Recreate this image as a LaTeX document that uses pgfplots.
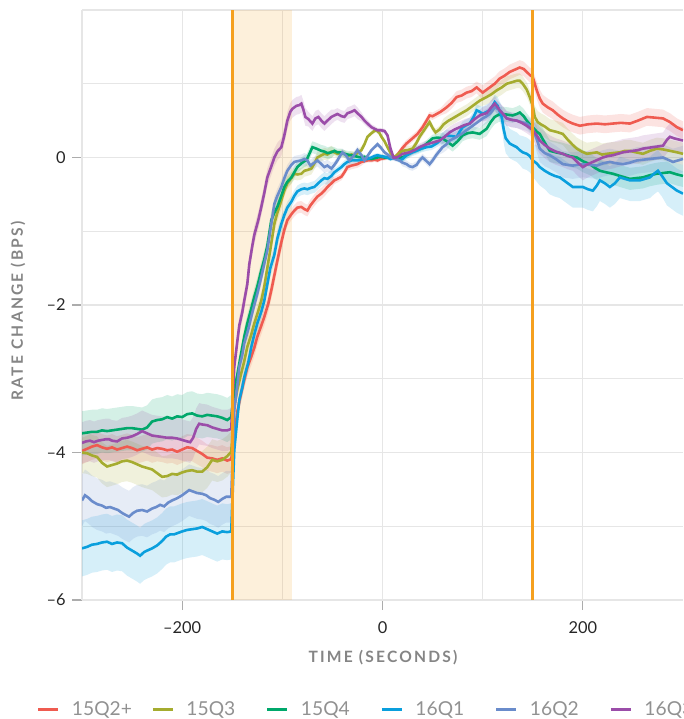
\documentclass[border=0pt]{standalone}
\usepackage{pgfplots}
\pgfplotsset{compat=1.18}
\usepackage{pgfplotstable}
\usepgfplotslibrary{fillbetween}
\usepackage{fontspec}
\setmainfont{Lato}
\newfontfamily\labfont[LetterSpace=14]{Lato Bold}
\definecolor{cRed}{HTML}{EF5B50}
\definecolor{cOli}{HTML}{A5AC2F}
\definecolor{cGrn}{HTML}{00A86B}
\definecolor{cBlu}{HTML}{0A9FDD}
\definecolor{cStl}{HTML}{6A8CCB}
\definecolor{cPur}{HTML}{9B4DA9}
\definecolor{cOrg}{HTML}{F5A01F}
\definecolor{cGrid}{HTML}{E6E6E6}
\definecolor{cLab}{HTML}{858585}

\pgfplotstableread{
x y e
-300 -3.98 0.18
-295 -3.95 0.18
-290 -3.92 0.18
-285 -3.90 0.18
-280 -3.93 0.18
-275 -3.95 0.18
-270 -3.93 0.18
-265 -3.96 0.18
-260 -3.94 0.18
-255 -3.92 0.18
-250 -3.94 0.18
-245 -3.97 0.18
-240 -3.95 0.18
-235 -3.93 0.18
-230 -3.96 0.18
-225 -3.94 0.18
-220 -3.95 0.18
-215 -3.97 0.18
-210 -3.96 0.18
-205 -3.99 0.18
-200 -3.96 0.18
-195 -3.93 0.18
-190 -3.94 0.18
-185 -3.98 0.18
-180 -4.02 0.18
-175 -4.07 0.18
-170 -4.08 0.18
-165 -4.10 0.18
-160 -4.08 0.18
-155 -4.11 0.18
-151 -4.09 0.18
-148 -3.79 0.12
-145 -3.45 0.12
-142 -3.25 0.12
-139 -3.07 0.12
-135 -2.85 0.12
-131 -2.70 0.12
-128 -2.58 0.12
-125 -2.43 0.12
-121 -2.28 0.12
-118 -2.16 0.12
-114 -1.98 0.12
-111 -1.80 0.12
-108 -1.60 0.12
-105 -1.40 0.12
-101 -1.15 0.12
-98 -0.98 0.08
-95 -0.85 0.08
-91 -0.77 0.08
-88 -0.72 0.08
-85 -0.68 0.08
-81 -0.67 0.08
-78 -0.70 0.08
-75 -0.72 0.08
-72 -0.65 0.08
-68 -0.58 0.08
-65 -0.53 0.08
-61 -0.49 0.08
-58 -0.45 0.08
-55 -0.40 0.08
-51 -0.35 0.08
-48 -0.31 0.05
-45 -0.29 0.05
-41 -0.26 0.05
-38 -0.20 0.05
-35 -0.13 0.05
-31 -0.11 0.05
-28 -0.10 0.05
-25 -0.09 0.05
-21 -0.06 0.05
-18 -0.05 0.03
-15 -0.04 0.03
-11 -0.04 0.03
-8 -0.03 0.03
-5 -0.04 0.03
-2 -0.02 0.03
2 -0.01 0.03
5 0.00 0.03
8 0.00 0.03
12 0.00 0.03
15 0.04 0.03
20 0.13 0.05
24 0.19 0.05
30 0.26 0.05
35 0.32 0.05
40 0.41 0.05
44 0.50 0.05
47 0.57 0.05
50 0.56 0.05
54 0.59 0.05
58 0.62 0.05
64 0.68 0.08
69 0.74 0.08
74 0.82 0.08
79 0.84 0.08
84 0.88 0.08
89 0.90 0.08
94 0.95 0.08
100 0.88 0.10
104 0.92 0.10
107 0.95 0.10
112 1.00 0.10
117 1.07 0.10
122 1.11 0.10
127 1.16 0.10
132 1.19 0.10
137 1.22 0.10
141 1.20 0.10
144 1.16 0.10
147 1.12 0.10
150 1.09 0.10
154 0.91 0.12
157 0.80 0.12
160 0.73 0.12
165 0.68 0.12
170 0.64 0.12
175 0.58 0.12
180 0.53 0.12
185 0.49 0.12
190 0.46 0.12
197 0.43 0.12
205 0.45 0.12
214 0.46 0.12
222 0.45 0.12
230 0.46 0.12
238 0.47 0.12
247 0.46 0.12
255 0.50 0.12
264 0.55 0.12
272 0.54 0.12
280 0.53 0.12
287 0.48 0.12
294 0.41 0.12
300 0.37 0.12
}\tRed

\pgfplotstableread{
x y e
-300 -4.00 0.28
-295 -4.01 0.28
-290 -4.04 0.28
-285 -4.06 0.28
-280 -4.14 0.28
-275 -4.19 0.28
-270 -4.17 0.28
-265 -4.15 0.28
-260 -4.12 0.28
-255 -4.11 0.28
-250 -4.13 0.28
-245 -4.16 0.28
-240 -4.19 0.28
-235 -4.21 0.28
-230 -4.23 0.28
-225 -4.28 0.28
-220 -4.33 0.28
-215 -4.32 0.28
-210 -4.29 0.28
-205 -4.30 0.28
-200 -4.27 0.28
-195 -4.25 0.28
-190 -4.24 0.28
-185 -4.26 0.28
-180 -4.26 0.28
-175 -4.20 0.28
-170 -4.10 0.28
-165 -4.12 0.28
-160 -4.10 0.28
-155 -4.05 0.28
-151 -3.99 0.28
-148 -3.38 0.12
-145 -3.15 0.12
-142 -2.98 0.12
-138 -2.76 0.12
-135 -2.57 0.12
-131 -2.40 0.12
-128 -2.25 0.12
-124 -2.08 0.12
-121 -1.94 0.12
-118 -1.75 0.12
-115 -1.50 0.12
-112 -1.25 0.12
-108 -0.90 0.12
-105 -0.75 0.12
-101 -0.58 0.12
-98 -0.45 0.08
-95 -0.35 0.08
-91 -0.28 0.08
-88 -0.22 0.08
-85 -0.23 0.08
-81 -0.22 0.08
-78 -0.18 0.08
-75 -0.17 0.08
-71 -0.15 0.08
-68 -0.08 0.08
-65 0.00 0.08
-61 0.03 0.08
-58 0.05 0.08
-55 0.04 0.08
-51 0.08 0.08
-48 0.07 0.05
-45 0.05 0.05
-41 0.06 0.05
-38 0.05 0.05
-35 0.02 0.05
-31 0.04 0.05
-28 0.03 0.05
-25 0.06 0.05
-21 0.10 0.05
-18 0.18 0.03
-15 0.28 0.03
-11 0.33 0.03
-8 0.36 0.03
-6 0.37 0.03
-3 0.33 0.03
-1 0.28 0.03
2 0.22 0.03
5 0.14 0.03
8 0.06 0.03
12 0.00 0.03
16 0.05 0.03
20 0.09 0.05
25 0.10 0.05
30 0.12 0.05
34 0.20 0.05
37 0.28 0.05
40 0.34 0.05
44 0.42 0.05
47 0.48 0.05
50 0.40 0.05
53 0.34 0.05
57 0.38 0.05
61 0.45 0.08
66 0.50 0.08
70 0.53 0.08
75 0.57 0.08
80 0.61 0.08
84 0.64 0.08
90 0.70 0.08
97 0.77 0.08
104 0.82 0.10
109 0.86 0.10
114 0.91 0.10
119 0.95 0.10
124 1.00 0.10
129 1.02 0.10
134 1.04 0.10
137 1.04 0.10
140 1.00 0.10
144 0.92 0.10
147 0.82 0.10
150 0.70 0.10
152 0.55 0.15
155 0.48 0.15
158 0.45 0.15
162 0.42 0.15
167 0.37 0.15
173 0.35 0.15
180 0.32 0.15
185 0.24 0.15
190 0.17 0.15
194 0.12 0.15
199 0.08 0.15
204 0.05 0.15
209 0.06 0.15
214 0.07 0.15
219 0.04 0.15
224 0.05 0.15
230 0.06 0.15
237 0.07 0.15
242 0.09 0.15
247 0.09 0.15
253 0.07 0.15
260 0.05 0.15
267 0.09 0.15
274 0.12 0.15
280 0.11 0.15
287 0.09 0.15
294 0.07 0.15
300 0.05 0.15
}\tOli

\pgfplotstableread{
x y e
-300 -3.74 0.30
-295 -3.73 0.30
-290 -3.72 0.30
-285 -3.72 0.30
-280 -3.70 0.30
-275 -3.71 0.30
-270 -3.70 0.30
-265 -3.69 0.30
-260 -3.68 0.30
-255 -3.67 0.30
-250 -3.67 0.30
-245 -3.68 0.30
-240 -3.69 0.30
-235 -3.66 0.30
-230 -3.58 0.30
-225 -3.56 0.30
-220 -3.55 0.30
-215 -3.52 0.30
-210 -3.54 0.30
-205 -3.51 0.30
-200 -3.52 0.30
-195 -3.48 0.30
-190 -3.47 0.30
-185 -3.50 0.30
-180 -3.51 0.30
-175 -3.49 0.30
-170 -3.50 0.30
-165 -3.51 0.30
-160 -3.53 0.30
-155 -3.56 0.30
-151 -3.52 0.30
-148 -3.16 0.12
-145 -2.95 0.12
-142 -2.72 0.12
-138 -2.43 0.12
-135 -2.25 0.12
-132 -2.10 0.12
-128 -1.89 0.12
-125 -1.75 0.12
-121 -1.53 0.12
-118 -1.38 0.12
-115 -1.20 0.12
-111 -0.85 0.12
-108 -0.75 0.12
-105 -0.67 0.12
-101 -0.52 0.12
-98 -0.40 0.08
-95 -0.33 0.08
-91 -0.27 0.08
-88 -0.20 0.08
-85 -0.13 0.08
-81 -0.08 0.08
-78 -0.05 0.08
-76 -0.04 0.08
-73 0.05 0.08
-70 0.14 0.08
-66 0.12 0.08
-61 0.09 0.08
-58 0.08 0.08
-55 0.06 0.08
-51 0.07 0.08
-48 0.09 0.05
-45 0.07 0.05
-41 0.07 0.05
-38 0.05 0.05
-35 0.04 0.05
-31 0.03 0.05
-28 0.02 0.05
-25 0.01 0.05
-21 0.00 0.05
-18 0.01 0.03
-15 -0.01 0.03
-11 -0.02 0.03
-8 -0.01 0.03
-5 0.00 0.03
-2 0.01 0.03
2 0.00 0.03
5 0.00 0.03
8 -0.01 0.03
12 0.00 0.03
16 0.00 0.03
20 0.00 0.05
25 0.04 0.05
30 0.09 0.05
35 0.11 0.05
40 0.14 0.05
45 0.20 0.05
50 0.26 0.05
55 0.27 0.05
60 0.26 0.08
65 0.21 0.08
70 0.16 0.08
75 0.22 0.08
80 0.30 0.08
85 0.33 0.08
90 0.34 0.08
97 0.32 0.08
104 0.39 0.10
108 0.48 0.10
112 0.55 0.10
116 0.58 0.10
120 0.59 0.10
125 0.58 0.10
130 0.57 0.10
134 0.59 0.10
137 0.61 0.10
141 0.56 0.10
144 0.50 0.10
147 0.45 0.10
150 0.41 0.10
154 0.35 0.15
157 0.32 0.15
162 0.20 0.15
167 0.09 0.15
173 0.07 0.15
180 0.05 0.15
187 0.02 0.15
194 0.00 0.15
200 -0.05 0.15
207 -0.09 0.15
212 -0.14 0.15
217 -0.18 0.15
223 -0.20 0.15
230 -0.22 0.15
237 -0.25 0.15
247 -0.29 0.15
253 -0.28 0.15
260 -0.27 0.15
267 -0.24 0.15
274 -0.22 0.15
280 -0.21 0.15
287 -0.20 0.15
294 -0.23 0.15
300 -0.25 0.15
}\tGrn

\pgfplotstableread{
x y e
-300 -5.30 0.38
-295 -5.28 0.38
-290 -5.25 0.38
-285 -5.24 0.38
-280 -5.22 0.38
-275 -5.21 0.38
-270 -5.24 0.38
-265 -5.22 0.38
-260 -5.23 0.38
-255 -5.29 0.38
-250 -5.33 0.38
-245 -5.37 0.38
-242 -5.40 0.38
-238 -5.35 0.38
-235 -5.33 0.38
-230 -5.30 0.38
-225 -5.26 0.38
-220 -5.20 0.38
-216 -5.14 0.38
-212 -5.11 0.38
-208 -5.11 0.38
-204 -5.09 0.38
-200 -5.07 0.38
-195 -5.05 0.38
-190 -5.04 0.38
-185 -5.03 0.38
-180 -5.01 0.38
-175 -5.04 0.38
-170 -5.07 0.38
-165 -5.10 0.38
-160 -5.07 0.38
-155 -5.08 0.38
-151 -5.07 0.38
-148 -3.97 0.12
-145 -3.55 0.12
-143 -3.29 0.12
-140 -3.12 0.12
-138 -2.98 0.12
-134 -2.78 0.12
-131 -2.57 0.12
-128 -2.40 0.12
-125 -2.25 0.12
-121 -2.09 0.12
-118 -1.94 0.12
-115 -1.72 0.12
-112 -1.50 0.12
-108 -1.32 0.12
-105 -1.10 0.12
-101 -0.90 0.12
-98 -0.78 0.08
-95 -0.68 0.08
-91 -0.60 0.08
-88 -0.52 0.08
-85 -0.46 0.08
-81 -0.43 0.08
-78 -0.42 0.08
-75 -0.43 0.08
-71 -0.41 0.08
-68 -0.40 0.08
-65 -0.36 0.08
-61 -0.31 0.08
-58 -0.28 0.08
-55 -0.29 0.08
-51 -0.25 0.08
-48 -0.20 0.05
-45 -0.17 0.05
-41 -0.13 0.05
-38 -0.09 0.05
-35 -0.06 0.05
-31 -0.04 0.05
-28 -0.04 0.05
-25 -0.04 0.05
-21 -0.03 0.05
-18 -0.02 0.03
-15 -0.02 0.03
-11 0.00 0.03
-8 0.02 0.03
-5 0.03 0.03
-2 0.02 0.03
2 0.01 0.03
5 0.00 0.03
8 -0.02 0.03
12 0.00 0.03
17 -0.04 0.03
20 -0.02 0.05
24 0.03 0.05
30 0.07 0.05
34 0.09 0.05
39 0.12 0.05
44 0.14 0.05
49 0.15 0.05
54 0.19 0.05
59 0.25 0.08
64 0.30 0.08
69 0.29 0.08
74 0.28 0.08
77 0.35 0.08
80 0.41 0.08
84 0.44 0.08
87 0.46 0.08
91 0.55 0.08
94 0.64 0.08
97 0.62 0.08
100 0.59 0.10
104 0.62 0.10
107 0.64 0.10
110 0.70 0.10
112 0.75 0.10
115 0.70 0.12
119 0.55 0.15
121 0.38 0.18
123 0.26 0.20
127 0.19 0.20
131 0.16 0.20
134 0.14 0.20
137 0.10 0.20
140 0.07 0.22
144 0.05 0.22
147 0.02 0.22
150 -0.04 0.22
154 -0.08 0.25
157 -0.13 0.25
162 -0.18 0.25
167 -0.22 0.28
172 -0.25 0.28
177 -0.27 0.28
183 -0.33 0.28
190 -0.40 0.28
195 -0.40 0.28
200 -0.40 0.28
205 -0.43 0.28
210 -0.45 0.28
214 -0.38 0.28
217 -0.31 0.28
222 -0.35 0.28
227 -0.40 0.28
232 -0.35 0.28
237 -0.27 0.28
242 -0.29 0.28
247 -0.31 0.28
252 -0.31 0.28
257 -0.31 0.28
262 -0.29 0.28
267 -0.27 0.28
271 -0.22 0.28
275 -0.18 0.28
279 -0.25 0.28
284 -0.35 0.30
289 -0.40 0.30
294 -0.45 0.30
300 -0.49 0.30
}\tBlu

\pgfplotstableread{
x y e
-300 -4.65 0.35
-297 -4.58 0.35
-293 -4.62 0.35
-290 -4.66 0.35
-285 -4.70 0.35
-280 -4.72 0.35
-276 -4.75 0.35
-272 -4.74 0.35
-268 -4.76 0.35
-264 -4.78 0.35
-260 -4.82 0.35
-256 -4.85 0.35
-253 -4.87 0.35
-249 -4.82 0.35
-245 -4.79 0.35
-240 -4.78 0.35
-235 -4.80 0.35
-230 -4.76 0.35
-226 -4.74 0.35
-222 -4.71 0.35
-218 -4.73 0.35
-214 -4.68 0.35
-210 -4.65 0.35
-205 -4.62 0.35
-200 -4.58 0.35
-197 -4.55 0.35
-193 -4.51 0.35
-189 -4.53 0.35
-185 -4.55 0.35
-180 -4.56 0.35
-176 -4.58 0.35
-172 -4.62 0.35
-168 -4.64 0.35
-164 -4.67 0.35
-160 -4.63 0.35
-156 -4.60 0.35
-151 -4.60 0.35
-148 -3.43 0.10
-145 -3.10 0.10
-143 -2.84 0.10
-140 -2.68 0.10
-138 -2.52 0.10
-134 -2.33 0.10
-131 -2.16 0.10
-128 -2.00 0.10
-125 -1.85 0.10
-121 -1.62 0.10
-118 -1.44 0.10
-115 -1.26 0.10
-111 -0.90 0.10
-108 -0.63 0.10
-105 -0.52 0.10
-101 -0.40 0.10
-98 -0.28 0.08
-95 -0.18 0.08
-91 -0.10 0.08
-88 -0.06 0.08
-85 -0.05 0.08
-81 -0.04 0.08
-78 -0.02 0.08
-75 -0.04 0.08
-72 -0.11 0.08
-68 -0.07 0.08
-65 -0.04 0.08
-61 -0.09 0.08
-58 -0.13 0.08
-55 -0.11 0.08
-51 -0.15 0.08
-48 -0.10 0.05
-45 -0.04 0.05
-42 0.03 0.05
-40 0.07 0.05
-36 0.02 0.05
-33 -0.04 0.05
-29 0.02 0.05
-25 0.10 0.05
-21 0.03 0.05
-18 -0.04 0.03
-15 0.02 0.03
-11 0.10 0.03
-8 0.14 0.03
-5 0.18 0.03
-2 0.14 0.03
2 0.07 0.03
5 0.04 0.03
9 0.00 0.03
12 -0.02 0.03
17 -0.04 0.03
20 -0.07 0.05
24 -0.09 0.05
27 -0.12 0.05
30 -0.13 0.05
34 -0.10 0.05
37 -0.04 0.05
40 0.00 0.05
44 -0.05 0.05
47 -0.09 0.05
50 -0.04 0.05
54 0.04 0.05
57 0.09 0.05
60 0.14 0.08
64 0.18 0.08
67 0.23 0.08
70 0.25 0.08
74 0.28 0.08
79 0.32 0.08
84 0.37 0.08
90 0.43 0.08
95 0.48 0.08
100 0.53 0.10
104 0.56 0.10
107 0.59 0.10
110 0.64 0.10
112 0.68 0.10
115 0.66 0.10
117 0.64 0.10
121 0.58 0.10
124 0.53 0.10
129 0.51 0.10
134 0.50 0.10
139 0.48 0.10
144 0.46 0.10
147 0.43 0.10
150 0.39 0.10
154 0.25 0.18
157 0.12 0.18
162 0.06 0.18
167 0.03 0.18
173 -0.02 0.18
180 -0.09 0.18
185 -0.10 0.18
190 -0.11 0.18
195 -0.10 0.18
200 -0.09 0.18
207 -0.10 0.18
214 -0.11 0.18
220 -0.08 0.18
227 -0.06 0.18
234 -0.08 0.18
240 -0.09 0.18
247 -0.07 0.18
254 -0.04 0.18
260 -0.03 0.18
267 -0.02 0.18
273 -0.01 0.18
280 0.00 0.18
285 -0.03 0.18
290 -0.06 0.18
295 -0.04 0.18
300 -0.02 0.18
}\tStl

\pgfplotstableread{
x y e
-300 -3.87 0.28
-296 -3.85 0.28
-292 -3.84 0.28
-288 -3.86 0.28
-284 -3.84 0.28
-280 -3.83 0.28
-276 -3.82 0.28
-273 -3.82 0.28
-270 -3.84 0.28
-265 -3.85 0.28
-260 -3.81 0.28
-255 -3.80 0.28
-250 -3.78 0.28
-245 -3.75 0.28
-240 -3.71 0.28
-235 -3.74 0.28
-230 -3.77 0.28
-225 -3.78 0.28
-220 -3.79 0.28
-215 -3.80 0.28
-210 -3.80 0.28
-205 -3.81 0.28
-200 -3.83 0.28
-195 -3.85 0.28
-192 -3.86 0.28
-189 -3.80 0.28
-186 -3.68 0.28
-183 -3.61 0.28
-180 -3.62 0.28
-175 -3.63 0.28
-170 -3.66 0.28
-165 -3.68 0.28
-160 -3.70 0.28
-155 -3.70 0.28
-151 -3.68 0.28
-148 -2.84 0.12
-145 -2.50 0.12
-143 -2.28 0.12
-140 -2.10 0.12
-138 -1.94 0.12
-135 -1.72 0.12
-133 -1.45 0.12
-130 -1.20 0.12
-128 -1.05 0.12
-124 -0.85 0.12
-121 -0.67 0.12
-118 -0.48 0.12
-115 -0.27 0.12
-111 -0.12 0.12
-108 0.00 0.12
-105 0.08 0.12
-101 0.14 0.12
-98 0.30 0.12
-95 0.50 0.12
-92 0.62 0.12
-90 0.66 0.12
-86 0.70 0.12
-83 0.71 0.12
-81 0.73 0.12
-79 0.65 0.12
-77 0.55 0.12
-74 0.52 0.10
-70 0.46 0.10
-67 0.53 0.10
-64 0.55 0.10
-61 0.50 0.10
-58 0.46 0.10
-55 0.50 0.10
-51 0.55 0.10
-48 0.57 0.08
-45 0.59 0.08
-41 0.56 0.08
-38 0.55 0.08
-35 0.60 0.08
-31 0.62 0.08
-28 0.64 0.08
-25 0.60 0.08
-21 0.55 0.06
-18 0.50 0.05
-15 0.46 0.05
-11 0.41 0.04
-8 0.39 0.04
-5 0.37 0.03
-2 0.37 0.03
2 0.36 0.03
5 0.30 0.03
8 0.12 0.03
11 0.00 0.03
14 0.00 0.03
17 0.02 0.03
20 0.05 0.05
24 0.06 0.05
27 0.07 0.05
32 0.10 0.05
37 0.14 0.05
42 0.17 0.05
47 0.19 0.05
52 0.21 0.05
57 0.23 0.05
62 0.28 0.08
67 0.34 0.08
72 0.38 0.08
77 0.41 0.08
82 0.44 0.08
87 0.46 0.08
92 0.52 0.08
97 0.57 0.08
101 0.59 0.10
104 0.60 0.10
108 0.67 0.10
112 0.73 0.10
115 0.68 0.10
117 0.64 0.10
121 0.58 0.10
124 0.53 0.10
129 0.51 0.10
134 0.50 0.10
139 0.47 0.10
144 0.43 0.10
150 0.37 0.10
154 0.30 0.18
157 0.23 0.18
162 0.17 0.18
167 0.12 0.18
173 0.08 0.18
180 0.05 0.18
185 0.02 0.18
190 0.00 0.18
195 -0.07 0.18
200 -0.13 0.18
205 -0.09 0.18
210 -0.06 0.18
215 -0.03 0.18
220 0.00 0.18
225 0.02 0.18
230 0.03 0.18
235 0.05 0.18
240 0.07 0.18
245 0.08 0.18
250 0.09 0.18
255 0.10 0.18
260 0.12 0.18
265 0.13 0.18
270 0.14 0.18
275 0.15 0.18
280 0.16 0.18
284 0.24 0.18
287 0.28 0.18
291 0.26 0.18
294 0.25 0.18
300 0.23 0.18
}\tPur

\newcommand{\band}[3]{%
  \addplot[name path=#1u, draw=none, forget plot] table[x=x, y expr=\thisrow{y}+\thisrow{e}] {#2};
  \addplot[name path=#1l, draw=none, forget plot] table[x=x, y expr=\thisrow{y}-\thisrow{e}] {#2};
  \addplot[fill=#3, fill opacity=0.17, draw=none, forget plot] fill between[of=#1u and #1l];
}

\begin{document}
\begin{tikzpicture}
\begin{axis}[
  scale only axis,
  width=300.5pt, height=295pt,
  xmin=-300, xmax=300, ymin=-6, ymax=2,
  axis x line*=bottom, axis y line*=left,
  axis line style={draw=cGrid, line width=1pt, -},
  xtick={-200,0,200}, xticklabels={–200,0,200},
  ytick={-6,-4,-2,0}, yticklabels={–6,–4,–2,0},
  minor xtick={-100,100}, minor ytick={-5,-3,-1,1,2},
  xmajorgrids, ymajorgrids, xminorgrids, yminorgrids,
  major grid style={draw=cGrid, line width=0.6pt},
  minor grid style={draw=cGrid, line width=0.6pt},
  tick align=outside, major tick length=5pt, minor tick length=0pt,
  major tick style={draw=gray!65, line width=0.6pt},
  ticklabel style={font=\fontsize{8.2}{10}\selectfont, text=black!85},
  xticklabel style={inner sep=0pt, yshift=-5.8pt},
  yticklabel style={inner sep=0pt, xshift=-3pt},
  xlabel={TIME (SECONDS)}, ylabel={RATE CHANGE (BPS)},
  label style={font=\labfont\fontsize{7.8}{9}\selectfont, text=cLab},
  xlabel style={at={(axis description cs:0.5008,-0.098)}, anchor=center},
  ylabel style={at={(axis description cs:-0.1065,0.49)}, anchor=center},
  legend columns=-1,
  legend style={at={(axis description cs:-0.0749,-0.1864)}, anchor=west,
    draw=none, fill=none, inner sep=0pt, outer sep=0pt,
    font=\fontsize{9.6}{11}\selectfont, text=cLab!90,
    nodes={inner sep=0pt, text width=39.75pt, align=left},
    /tikz/every odd column/.append style={column sep=6pt},
    /tikz/every even column/.append style={column sep=0pt}},
  legend image code/.code={\draw[line width=1.5pt] (0pt,0pt) -- (10pt,0pt);},
  clip=true,
]
\fill[cOrg, opacity=0.16] (axis cs:-150,-6) rectangle (axis cs:-90,2);

\band{a}{\tRed}{cRed}
\band{b}{\tOli}{cOli}
\band{c}{\tGrn}{cGrn}
\band{d}{\tBlu}{cBlu}
\band{f}{\tStl}{cStl}
\band{g}{\tPur}{cPur}

\addplot[cRed, line width=1.3pt] table[x=x, y=y] {\tRed}; \addlegendentry{15Q2+}
\addplot[cOli, line width=1.3pt] table[x=x, y=y] {\tOli}; \addlegendentry{15Q3}
\addplot[cGrn, line width=1.3pt] table[x=x, y=y] {\tGrn}; \addlegendentry{15Q4}
\addplot[cBlu, line width=1.3pt] table[x=x, y=y] {\tBlu}; \addlegendentry{16Q1}
\addplot[cStl, line width=1.3pt] table[x=x, y=y] {\tStl}; \addlegendentry{16Q2}
\addplot[cPur, line width=1.3pt] table[x=x, y=y] {\tPur}; \addlegendentry{16Q3}

\addplot[cOrg, line width=1.4pt, forget plot] coordinates {(-150,-6) (-150,2)};
\addplot[cOrg, line width=1.4pt, forget plot] coordinates {(150,-6) (150,2)};
\end{axis}
\pgfresetboundingbox
\path[use as bounding box] ([xshift=-41pt,yshift=-59.5pt]current axis.south west) rectangle ([yshift=5pt]current axis.north east);
\end{tikzpicture}
\end{document}
